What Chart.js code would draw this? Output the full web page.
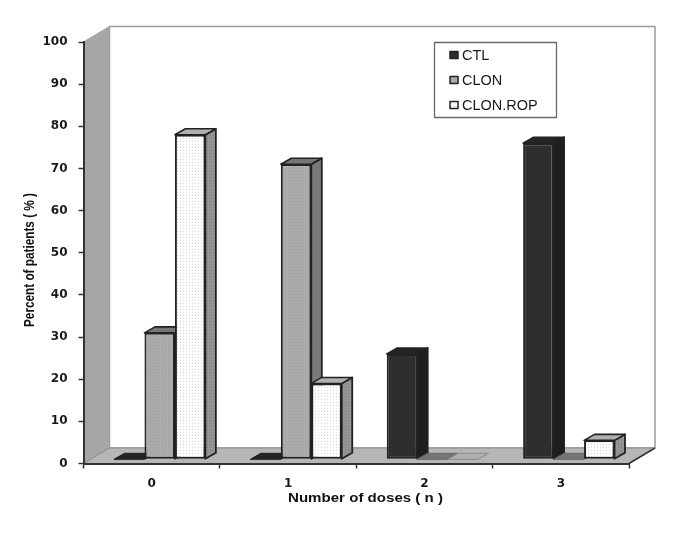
<!DOCTYPE html>
<html>
<head>
<meta charset="utf-8">
<title>Number of doses</title>
<script src="https://cdn.jsdelivr.net/npm/chart.js@4/dist/chart.umd.min.js"></script>
<style>
    html, body { margin: 0; padding: 0; background: #fff; }
    canvas { display: block; filter: blur(0.4px); }
</style>
</head>
<body>
<canvas id="dosesChart" width="685" height="534"></canvas>
<script>
const categories = ['0', '1', '2', '3'];
const seriesNames = ['CTL', 'CLON', 'CLON.ROP'];
const ctlValues = [0, 0, 25, 75];
const clonValues = [30, 70, 0, 0];
const clonRopValues = [77, 18, 0, 4.5];
const yTitle = 'Percent of patients ( % )';
const xTitle = 'Number of doses ( n )';

// depth of the fake 3D box and of each bar
const WALL_DX = 26, WALL_DY = 15.5;
const BAR_DX = 10.5, BAR_DY = 6;
const BAR_SHIFT_X = 8, BAR_SHIFT_Y = -4.2;
const EDGE = '#222222';

function makePattern(bg, dot) {
    const c = document.createElement('canvas');
    c.width = 3; c.height = 3;
    const g = c.getContext('2d');
    g.fillStyle = bg;
    g.fillRect(0, 0, 3, 3);
    g.fillStyle = dot;
    g.fillRect(1, 1, 1, 1);
    return document.getElementById('dosesChart').getContext('2d').createPattern(c, 'repeat');
}

const faces = {
    CTL: { front: '#2e2e2e', top: '#242424', side: '#1e1e1e', flatEdge: '#1e1e1e' },
    CLON: { front: makePattern('#ababab', '#9d9d9d'), top: '#757575', side: '#7a7a7a', flatEdge: '#666666' },
    'CLON.ROP': { front: makePattern('#ffffff', '#cfcfcf'), top: '#b0b0b0', side: makePattern('#949494', '#7c7c7c'), flatEdge: '#8a8a8a' }
};

function poly(ctx, pts, fill, stroke, lw) {
    ctx.beginPath();
    pts.forEach((p, i) => i ? ctx.lineTo(p[0], p[1]) : ctx.moveTo(p[0], p[1]));
    ctx.closePath();
    if (fill) { ctx.fillStyle = fill; ctx.fill(); }
    if (stroke) { ctx.strokeStyle = stroke; ctx.lineWidth = lw || 1; ctx.lineJoin = 'round'; ctx.stroke(); }
}

// text squeezed or stretched to the width it has in the picture
function fitText(ctx, text, x, y, rot, font, width) {
    ctx.save();
    ctx.font = font;
    ctx.fillStyle = '#111';
    ctx.textAlign = 'center';
    ctx.textBaseline = 'middle';
    ctx.translate(x, y);
    ctx.rotate(rot);
    ctx.scale(width / ctx.measureText(text).width, 1);
    ctx.fillText(text, 0, 0);
    ctx.restore();
}

const box3d = {
    id: 'box3d',
    beforeDraw(chart) {
        const ctx = chart.ctx;
        const l = chart.scales.x.left, r = chart.scales.x.right;
        const t = chart.scales.y.top, b = chart.scales.y.bottom;
        const bl = l + WALL_DX, br = r + WALL_DX, bb = b - WALL_DY, bt = t - WALL_DY;
        poly(ctx, [[bl, bt], [br, bt], [br, bb], [bl, bb]], '#ffffff', '#9c9c9c', 1.5);
        poly(ctx, [[l, t], [bl, bt], [bl, bb], [l, b]], '#a6a6a6', '#9c9c9c', 1);
        poly(ctx, [[l, b], [bl, bb], [br, bb], [r, b]], '#b6b6b6', '#8c8c8c', 1);
        ctx.beginPath();
        ctx.moveTo(r, b);
        ctx.lineTo(br, bb);
        ctx.strokeStyle = '#333';
        ctx.lineWidth = 1.5;
        ctx.stroke();
    },
    beforeDatasetsDraw(chart) {
        const ctx = chart.ctx;
        ctx.save();
        ctx.translate(BAR_SHIFT_X, BAR_SHIFT_Y);
        // tops and sides go first, the library then paints the fronts over them
        chart.data.datasets.forEach((ds, i) => {
            const f = faces[ds.label];
            chart.getDatasetMeta(i).data.forEach(bar => {
                const x0 = bar.x - bar.width / 2, x1 = bar.x + bar.width / 2;
                const flat = bar.base - bar.y <= 0.5;
                if (!flat) {
                    poly(ctx, [[x1, bar.y], [x1 + BAR_DX, bar.y - BAR_DY], [x1 + BAR_DX, bar.base - BAR_DY], [x1, bar.base]], f.side, EDGE, 1.8);
                }
                poly(ctx, [[x0, bar.y], [x0 + BAR_DX, bar.y - BAR_DY], [x1 + BAR_DX, bar.y - BAR_DY], [x1, bar.y]], f.top, flat ? f.flatEdge : EDGE, flat ? 1 : 1.6);
            });
        });
    },
    afterDatasetsDraw(chart) {
        chart.ctx.restore();
    },
    afterDraw(chart) {
        const ctx = chart.ctx;
        fitText(ctx, yTitle, 30, 260, -Math.PI / 2, 'bold 15px "Liberation Sans"', 134);
        fitText(ctx, xTitle, 365.5, 498, 0, 'bold 13.5px "Liberation Sans"', 155);
        // legend
        ctx.fillStyle = '#fff';
        ctx.fillRect(434.5, 42.5, 122, 75);
        ctx.strokeStyle = '#6a6a6a';
        ctx.lineWidth = 1.3;
        ctx.strokeRect(434.5, 42.5, 122, 75);
        seriesNames.forEach((name, i) => {
            const y = 55 + i * 25;
            ctx.fillStyle = faces[name].front;
            ctx.fillRect(450, y - 3.5, 8, 7);
            ctx.strokeStyle = '#222';
            ctx.lineWidth = 1.5;
            ctx.strokeRect(450, y - 3.5, 8, 7);
            ctx.fillStyle = '#1a1a1a';
            ctx.font = '14.5px "Liberation Sans"';
            ctx.textAlign = 'left';
            ctx.textBaseline = 'middle';
            ctx.fillText(name, 462, y + 0.5);
        });
    }
};

const tickFont = { family: '"DejaVu Sans"', size: 12, weight: 'bold' };

function dataset(name, values) {
    return {
        label: name,
        data: values,
        clip: false,
        backgroundColor: faces[name].front,
        borderColor: c => (c.parsed.y === 0 ? 'rgba(0,0,0,0)' : EDGE),
        borderWidth: 2,
        borderSkipped: false
    };
}

new Chart(document.getElementById('dosesChart'), {
    type: 'bar',
    data: {
        labels: categories,
        datasets: [
            dataset(seriesNames[0], ctlValues),
            dataset(seriesNames[1], clonValues),
            dataset(seriesNames[2], clonRopValues)
        ]
    },
    plugins: [box3d],
    options: {
        responsive: false,
        animation: false,
        layout: { padding: { top: 42, right: 56 } },
        plugins: { legend: { display: false }, tooltip: { enabled: false } },
        datasets: { bar: { categoryPercentage: 0.67, barPercentage: 1 } },
        scales: {
            x: {
                afterFit(scale) { scale.height = 70.5; },
                border: { color: '#333', width: 2 },
                grid: { drawOnChartArea: false, tickLength: 5, tickColor: '#333', tickWidth: 1.5 },
                ticks: { color: '#1a1a1a', font: tickFont, padding: 8, maxRotation: 0 }
            },
            y: {
                min: 0,
                max: 100,
                afterFit(scale) { scale.width = 83.5; },
                border: { color: '#333', width: 2 },
                grid: { drawOnChartArea: false, tickLength: 5, tickColor: '#333', tickWidth: 1.5 },
                ticks: { stepSize: 10, color: '#1a1a1a', font: tickFont, padding: 11 }
            }
        }
    }
});
</script>
</body>
</html>
